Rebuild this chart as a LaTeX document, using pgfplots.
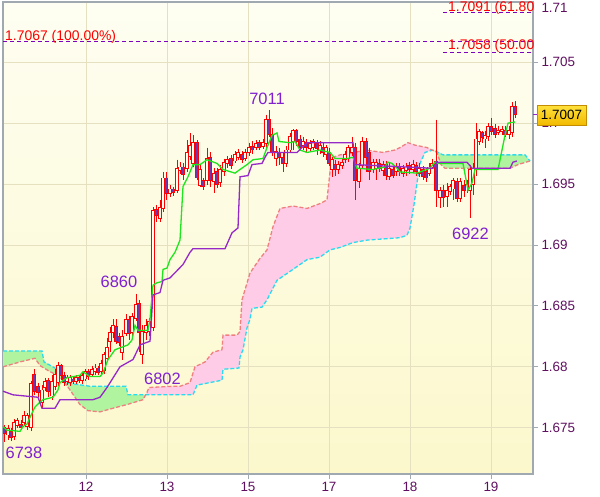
\documentclass[border=0pt]{standalone}
\usepackage{fontspec}
\setmainfont{Liberation Sans}
\usepackage{pgfplots}
\pgfplotsset{compat=1.18}
\usepackage{pgfplotstable}

\definecolor{bgtop}{RGB}{254,254,242}
\definecolor{bgbot}{RGB}{252,248,204}
\definecolor{framegray}{RGB}{160,168,176}
\definecolor{gridtan}{RGB}{228,224,192}
\definecolor{tickpurple}{RGB}{96,16,96}
\definecolor{labelpurple}{RGB}{128,32,208}
\definecolor{kijuncol}{RGB}{150,40,200}
\definecolor{tenkancol}{RGB}{30,230,30}
\definecolor{senkouA}{RGB}{40,220,240}
\definecolor{senkouB}{RGB}{240,128,128}
\definecolor{cloudgreen}{RGB}{176,244,160}
\definecolor{cloudpink}{RGB}{255,204,232}
\definecolor{candlered}{RGB}{255,0,0}
\definecolor{bearfill}{RGB}{112,56,176}
\definecolor{bullfill}{RGB}{255,255,238}
\definecolor{fibline}{RGB}{128,0,192}
\definecolor{goldtop}{RGB}{255,226,60}
\definecolor{goldbot}{RGB}{242,186,0}
\definecolor{golddraw}{RGB}{196,140,0}

\newcommand\tickfont{\fontsize{13.5}{14}\selectfont}
\newcommand\fibfont{\fontsize{14}{14}\selectfont}
\newcommand\lblfont{\fontsize{16.5}{17}\selectfont}

% hourly candles: x = bar position, prices in pips (1.6750 -> 6750)
\pgfplotstableread{
x o h l c
4 6750 6752 6738 6745
8 6744 6752 6740 6749
11 6747 6750 6739 6742
14 6743 6757 6740 6754
17 6752 6758 6750 6756
21 6753 6756 6748 6750
24 6754 6764 6752 6760
27 6751 6762 6748 6760
31 6750 6788 6747 6786
34 6794 6798 6777 6780
38 6784 6787 6775 6779
42 6771 6785 6765 6781
45 6783 6791 6780 6788
48 6789 6791 6775 6780
52 6776 6793 6773 6788
55 6784 6798 6781 6794
58 6787 6804 6784 6801
61 6801 6802 6789 6793
64 6793 6796 6784 6787
67 6788 6793 6785 6791
70 6787 6793 6784 6791
73 6790 6792 6786 6788
76 6788 6793 6786 6791
79 6791 6793 6787 6789
82 6789 6795 6786 6793
85 6790 6798 6788 6796
88 6796 6798 6789 6792
92 6794 6801 6792 6798
95 6796 6802 6793 6799
98 6799 6801 6793 6795
101 6796 6806 6793 6803
104 6797 6812 6794 6810
107 6807 6824 6804 6816
110 6821 6833 6812 6828
113 6828 6839 6824 6834
116 6833 6839 6819 6821
119 6825 6828 6817 6820
122 6812 6830 6806 6825
126 6827 6843 6825 6839
129 6839 6842 6822 6827
132 6828 6844 6825 6841
136 6840 6860 6838 6851
139 6852 6855 6812 6828
142 6810 6834 6802 6829
146 6828 6839 6822 6834
149 6829 6840 6825 6837
153 6832 6931 6829 6928
156 6929 6933 6919 6924
160 6922 6937 6919 6931
163 6930 6960 6927 6955
166 6955 6960 6937 6942
170 6942 6949 6939 6946
173 6946 6948 6940 6943
177 6945 6970 6943 6963
180 6961 6968 6958 6964
183 6964 6967 6953 6958
187 6963 6986 6960 6976
190 6973 6992 6970 6982
193 6967 6990 6964 6984
197 6984 6986 6953 6955
200 6949 6966 6948 6962
203 6953 6955 6945 6948
207 6953 6980 6949 6971
210 6972 6976 6948 6953
214 6952 6963 6943 6959
217 6960 6963 6947 6950
220 6951 6966 6948 6962
224 6960 6971 6957 6968
227 6967 6973 6963 6970
231 6971 6974 6962 6965
235 6969 6977 6967 6974
238 6972 6979 6970 6976
242 6974 6977 6967 6970
245 6971 6979 6969 6976
249 6976 6984 6973 6980
252 6981 6985 6975 6978
256 6980 6986 6978 6983
259 6984 6986 6978 6980
263 6981 6987 6979 6984
266 6983 7007 6980 7003
269 7003 7011 6989 6991
272 6991 6996 6973 6976
276 6971 6981 6965 6977
279 6976 6980 6966 6972
283 6972 6976 6960 6967
286 6967 6981 6964 6978
290 6978 6992 6976 6989
293 6985 6995 6978 6994
296 6994 6995 6981 6985
300 6987 6990 6977 6980
303 6982 6989 6978 6985
306 6984 6987 6976 6980
310 6979 6986 6976 6983
313 6980 6987 6978 6985
317 6983 6986 6974 6979
320 6978 6985 6975 6982
323 6980 6984 6972 6976
326 6974 6982 6970 6980
329 6976 6980 6965 6967
332 6962 6972 6956 6970
335 6966 6970 6957 6962
338 6962 6969 6958 6966
342 6965 6971 6962 6968
345 6970 6977 6967 6974
348 6971 6982 6968 6980
352 6976 6989 6973 6980
355 6980 6984 6937 6953
359 6952 6967 6947 6963
362 6965 6989 6962 6985
366 6985 6988 6960 6972
369 6976 6980 6953 6960
373 6962 6971 6959 6968
376 6963 6971 6953 6968
379 6967 6971 6960 6963
383 6961 6969 6957 6966
386 6966 6969 6953 6957
389 6956 6967 6953 6963
393 6962 6965 6955 6957
396 6960 6967 6957 6964
399 6964 6967 6957 6960
403 6959 6966 6956 6963
406 6961 6967 6957 6964
409 6965 6968 6958 6962
413 6962 6970 6959 6966
416 6965 6968 6957 6960
419 6959 6967 6956 6963
423 6962 6965 6953 6956
426 6960 6963 6952 6955
429 6959 6967 6957 6964
432 6964 6971 6962 6967
436 6969 7003 6931 6945
440 6939 6948 6930 6945
443 6945 6949 6931 6939
447 6940 6951 6931 6945
450 6944 6950 6941 6948
453 6946 6955 6937 6953
457 6952 6955 6935 6938
460 6938 6955 6935 6952
464 6949 6953 6939 6945
467 6946 6953 6943 6950
470 6945 6966 6922 6962
473 6950 6967 6941 6963
476 6962 7000 6957 6987
479 6985 6995 6982 6993
482 6992 6994 6984 6988
485 6987 6994 6980 6990
488 6989 7000 6985 6997
491 6997 7004 6990 6993
495 6996 6999 6988 6991
498 6992 6998 6990 6994
502 6993 6998 6990 6995
505 6994 6998 6989 6991
509 6991 6998 6987 6994
512 6992 7017 6989 7014
515 7014 7018 7004 7007
}\candles

% leading span A (cyan) and span B (salmon)
\pgfplotstableread{
x p
3 6813
42 6813
44 6804
55 6799
60 6795
65 6787
90 6784
126 6784
128 6777
193 6777
197 6785
222 6789
223 6798
239 6799
240 6808
243 6814
247 6832
250 6839
252 6848
262 6849
267 6855
277 6871
293 6880
307 6888
320 6890
330 6896
340 6898
353 6902
367 6904
400 6906
407 6908
410 6914
414 6933
417 6951
420 6967
425 6976
433 6978
443 6974
525 6974
530 6969
}\spanA

\pgfplotstableread{
x p
3 6800
20 6804
35 6807
40 6801
50 6796
58 6793
63 6789
70 6781
80 6769
88 6764
100 6763
113 6766
127 6769
143 6773
147 6779
149 6783
173 6784
180 6784
190 6787
195 6800
205 6804
213 6812
222 6814
223 6826
237 6826
240 6829
242 6855
250 6877
260 6889
267 6896
273 6915
280 6930
293 6932
307 6930
320 6934
327 6937
330 6960
333 6972
340 6974
350 6975
365 6978
383 6976
395 6978
400 6980
408 6984
415 6982
427 6980
437 6976
441 6966
445 6963
510 6963
518 6966
530 6969
}\spanB

\pgfplotstableread{
x p
3 6751
7 6748
20 6747
23 6751
27 6753
32 6762
35 6767
40 6771
43 6773
53 6775
58 6781
60 6787
67 6791
80 6793
83 6796
90 6792
100 6792
103 6795
108 6806
115 6814
128 6818
132 6822
135 6834
138 6830
148 6830
150 6839
153 6867
157 6869
162 6870
163 6880
167 6881
170 6888
175 6894
180 6904
183 6948
188 6956
193 6966
200 6966
207 6970
217 6967
223 6962
235 6959
240 6962
247 6966
253 6970
263 6971
267 6980
272 6990
277 6992
279 6985
290 6984
295 6985
300 6978
307 6976
320 6978
330 6976
335 6971
347 6971
353 6972
357 6963
373 6962
385 6964
388 6968
392 6967
397 6963
400 6960
417 6959
430 6963
435 6968
438 6967
463 6967
468 6945
472 6951
475 6962
498 6962
505 6990
508 7000
515 7001
}\tenkan

\pgfplotstableread{
x p
3 6780
13 6777
38 6775
42 6766
55 6766
60 6773
93 6773
100 6775
107 6783
120 6800
133 6806
140 6818
150 6821
153 6859
160 6861
163 6871
170 6873
183 6884
190 6894
193 6897
225 6897
232 6910
238 6914
240 6956
248 6957
252 6966
262 6967
265 6972
268 6976
287 6976
297 6976
307 6984
353 6984
355 6966
433 6963
437 6968
467 6968
472 6963
510 6963
513 6968
517 6969
}\kijun

\begin{document}
\begin{tikzpicture}
\path[use as bounding box, fill=white] (-3bp,-23bp) rectangle (597bp,474bp);

% background, grid, cloud, candles, fibonacci levels
\begin{axis}[
  at={(0,0)}, anchor=south west,
  scale only axis, width=530bp, height=472bp,
  xmin=3, xmax=533, ymin=6712, ymax=7099.5,
  axis background/.style={top color=bgtop, bottom color=bgbot},
  axis line style={draw=framegray, line width=1.2bp},
  xtick={86,167,248,329,410,491}, xticklabels={12,13,15,17,18,19},
  ytick={6750,6800,6850,6900,6950,7000,7050,7100},
  yticklabels={1.675,1.68,1.685,1.69,1.695,1.7,1.705,{}},
  xtick pos=left, ytick pos=right, yticklabel pos=right,
  tick align=outside, major tick length=5bp,
  tick style={draw=framegray, line width=1bp},
  grid=major, grid style={draw=gridtan, line width=1bp},
  ticklabel style={font=\tickfont, text=tickpurple},
  yticklabel style={anchor=west},
  candle/.style={draw=none, mark=none, error bars/.cd, y dir=minus, y explicit, error mark=none},
]
% cloud: span A above B (green), B above A (pink)
\addplot[fill=cloudgreen, draw=none] coordinates {
(3,6813) (42,6813) (44,6804) (55,6799) (60,6795) (65,6787) (90,6784) (126,6784) (128,6777) (145.7,6777)
(143,6773) (127,6769) (113,6766) (100,6763) (88,6764) (80,6769) (70,6781) (63,6789) (58,6793)
(50,6796) (40,6801) (35,6807) (20,6804) (3,6800)};
\addplot[fill=cloudpink, draw=none] coordinates {
(145.7,6777) (147,6779) (149,6783) (173,6784) (180,6784) (190,6787) (195,6800) (205,6804) (213,6812)
(222,6814) (223,6826) (237,6826) (240,6829) (242,6855) (250,6877) (260,6889) (267,6896) (273,6915)
(280,6930) (293,6932) (307,6930) (320,6934) (327,6937) (330,6960) (333,6972) (340,6974) (350,6975)
(365,6978) (383,6976) (395,6978) (400,6980) (408,6984) (415,6982) (427,6980) (432.5,6977.9)
(425,6976) (420,6967) (417,6951) (414,6933) (410,6914) (407,6908) (400,6906) (367,6904) (353,6902)
(340,6898) (330,6896) (320,6890) (307,6888) (293,6880) (277,6871) (267,6855) (262,6849) (252,6848)
(250,6839) (247,6832) (243,6814) (240,6808) (239,6799) (223,6798) (222,6789) (197,6785) (193,6777)};
\addplot[fill=cloudgreen, draw=none] coordinates {
(432.5,6977.9) (433,6978) (443,6974) (525,6974) (530,6969)
(518,6966) (510,6963) (445,6963) (441,6966) (437,6976)};
\addplot[senkouA, line width=1.3bp, dash pattern=on 4bp off 2bp] table[x=x, y=p] {\spanA};
\addplot[senkouB, line width=1.3bp, dash pattern=on 4bp off 2bp] table[x=x, y=p] {\spanB};

% candle wicks
\addplot[candle, error bar style={draw=candlered, line width=0.9bp}]
  table[x=x, y=h, y error expr=\thisrow{h}-\thisrow{l}] {\candles};
% candle bodies: red outline, then inner colour
\addplot[candle, error bar style={draw=candlered, line width=3.1bp}]
  table[x=x, y expr={max(\thisrow{o},\thisrow{c})+0.37}, y error expr={abs(\thisrow{o}-\thisrow{c})+0.74}] {\candles};
\addplot[candle, error bar style={draw=bullfill, line width=1.3bp}]
  table[x=x, y expr={max(\thisrow{o},\thisrow{c})-0.37}, y error expr={max(\thisrow{c}-\thisrow{o}-0.74,0)}] {\candles};
\addplot[candle, error bar style={draw=bearfill, line width=1.3bp}]
  table[x=x, y expr={max(\thisrow{o},\thisrow{c})-0.37}, y error expr={max(\thisrow{o}-\thisrow{c}-0.74,0)}] {\candles};

\draw[fibline, line width=1.1bp, dash pattern=on 4bp off 3bp] (axis cs:3,7067) -- (axis cs:533,7067);
\draw[fibline, line width=1.1bp, dash pattern=on 4bp off 3bp] (axis cs:443,7091) -- (axis cs:533,7091);
\draw[fibline, line width=1.1bp, dash pattern=on 4bp off 3bp] (axis cs:443,7058) -- (axis cs:533,7058);
\node[anchor=base west, inner sep=0pt, text=red, font=\fibfont] at (axis cs:5,7068.2) {1.7067 (100.00\%)};
\node[anchor=base west, inner sep=0pt, text=red, font=\fibfont] at (axis cs:448,7092) {1.7091 (61.80};
\node[anchor=base west, inner sep=0pt, text=red, font=\fibfont] at (axis cs:448,7060.8) {1.7058 (50.00};

\node[text=labelpurple, font=\lblfont, inner sep=0pt] at (axis cs:24,6729.5) {6738};
\node[text=labelpurple, font=\lblfont, inner sep=0pt] at (axis cs:119,6869.8) {6860};
\node[text=labelpurple, font=\lblfont, inner sep=0pt] at (axis cs:162.5,6790.2) {6802};
\node[text=labelpurple, font=\lblfont, inner sep=0pt] at (axis cs:267,7020.2) {7011};
\node[text=labelpurple, font=\lblfont, inner sep=0pt] at (axis cs:470.5,6909.1) {6922};
\end{axis}

% conversion and base lines, price marker
\begin{axis}[
  at={(0,0)}, anchor=south west,
  scale only axis, width=530bp, height=472bp,
  xmin=3, xmax=533, ymin=6712, ymax=7099.5,
  hide axis, clip=false,
]
\addplot[tenkancol, line width=1.3bp] table[x=x, y=p] {\tenkan};
\addplot[kijuncol, line width=1.3bp] table[x=x, y=p] {\kijun};

\node[anchor=west, text=tickpurple, font=\tickfont] at ([xshift=5bp]axis cs:533,7094.4) {1.71};
\draw[kijuncol, line width=1.5bp] (axis cs:533,7007) -- ([xshift=4bp]axis cs:533,7007);
\draw[top color=goldtop, bottom color=goldbot, draw=golddraw, line width=0.8bp]
  ([xshift=4bp]axis cs:533,7014.9) rectangle ([xshift=53bp]axis cs:533,6998.5);
\node[text=black, font=\tickfont] at ([xshift=28.5bp]axis cs:533,7006.7) {1.7007};
\end{axis}
\end{tikzpicture}
\end{document}
